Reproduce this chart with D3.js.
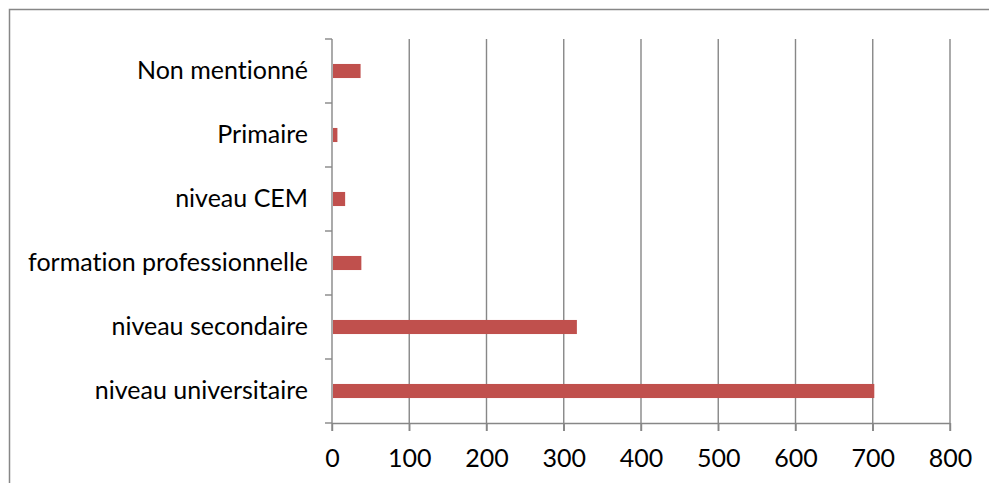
<!DOCTYPE html>
<html><head><meta charset="utf-8">
<script src="https://cdn.jsdelivr.net/npm/d3@7"></script>
<style>body{margin:0;background:#fff}svg{display:block}text{font-variant-ligatures:none;font-feature-settings:"liga" 0}</style>
</head><body>
<svg id="c" width="989" height="483"></svg>
<script>
const categories = ["Non mentionné","Primaire","niveau CEM","formation professionnelle","niveau secondaire","niveau universitaire"];
const values = [37, 7, 17, 38, 317, 702];
const xTicks = [0,100,200,300,400,500,600,700,800];

const svg = d3.select("#c");
const pL=332,pR=950,pT=39,pB=423;
const font = "Lato, 'Open Sans', sans-serif";
const fs = 25;
const grid = "#878787";

// frame
svg.append("rect").attr("x",9.5).attr("y",9.5).attr("width",1200).attr("height",1200)
  .attr("fill","none").attr("stroke",grid).attr("stroke-width",1.5);

const x = d3.scaleLinear().domain([0,800]).range([pL,pR]);
const y = d3.scaleBand().domain(categories).range([pT,pB]).paddingInner(0.78).paddingOuter(0.39);

// gridlines
svg.append("g").selectAll("line").data(xTicks.slice(1)).join("line")
  .attr("x1",d=>x(d)).attr("x2",d=>x(d)).attr("y1",pT).attr("y2",pB+8)
  .attr("stroke",grid).attr("stroke-width",1.4);

// bars
svg.append("g").selectAll("rect").data(values).join("rect")
  .attr("x",x(0)+1).attr("y",(d,i)=>y(categories[i]))
  .attr("width",d=>x(d)-x(0)-1).attr("height",y.bandwidth())
  .attr("fill","#C0504D");

// x axis
const xa = svg.append("g").attr("transform",`translate(0,${pB})`)
  .call(d3.axisBottom(x).tickValues(xTicks).tickSize(8).tickPadding(18));
xa.select(".domain").attr("stroke",grid).attr("stroke-width",1.4).attr("d",`M${pL},0.5H${pR}`);
xa.selectAll(".tick line").attr("stroke",grid).attr("stroke-width",1.4);
xa.selectAll("text").attr("font-family",font).attr("font-size",fs).attr("fill","#000");

// y axis
const yb = d3.scaleBand().domain(categories).range([pT,pB]);
const ya = svg.append("g").attr("transform",`translate(${pL},0)`);
ya.append("line").attr("x1",0).attr("x2",0).attr("y1",pT).attr("y2",pB+8)
  .attr("stroke",grid).attr("stroke-width",1.4);
const yt = d3.range(categories.length+1).map(i=>pT+i*yb.bandwidth());
ya.selectAll("line.t").data(yt).join("line").attr("class","t")
  .attr("x1",-7).attr("x2",0).attr("y1",d=>d).attr("y2",d=>d)
  .attr("stroke",grid).attr("stroke-width",1.4);
ya.selectAll("text").data(categories).join("text")
  .attr("x",-24).attr("y",d=>yb(d)+yb.bandwidth()/2)
  .attr("dy","0.3em").attr("text-anchor","end")
  .attr("font-family",font).attr("font-size",fs).attr("fill","#000").text(d=>d);
</script>
</body></html>
